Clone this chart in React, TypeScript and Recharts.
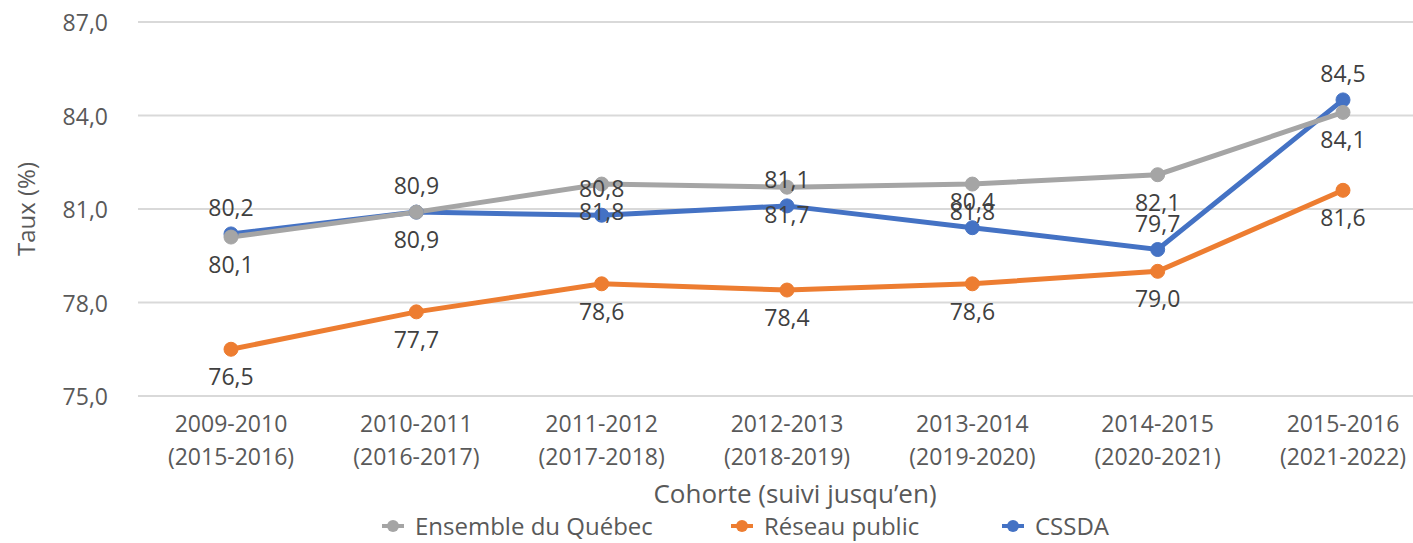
import React from "react";
import { LineChart, Line, XAxis, YAxis, CartesianGrid, LabelList } from "recharts";

const cohortes = ["2009-2010", "2010-2011", "2011-2012", "2012-2013", "2013-2014", "2014-2015", "2015-2016"];
const suivis = ["(2015-2016)", "(2016-2017)", "(2017-2018)", "(2018-2019)", "(2019-2020)", "(2020-2021)", "(2021-2022)"];
const ensembleQuebec = [80.1, 80.9, 81.8, 81.7, 81.8, 82.1, 84.1];
const reseauPublic = [76.5, 77.7, 78.6, 78.4, 78.6, 79.0, 81.6];
const cssda = [80.2, 80.9, 80.8, 81.1, 80.4, 79.7, 84.5];
const yTicks = [75, 78, 81, 84, 87];

const seriesInfo = [
  { key: "ensemble", name: "Ensemble du Québec", color: "#A5A5A5" },
  { key: "reseau", name: "Réseau public", color: "#ED7D31" },
  { key: "cssda", name: "CSSDA", color: "#4472C4" },
];

const data = cohortes.map((c, i) => ({
  cat: c,
  sub: suivis[i],
  ensemble: ensembleQuebec[i],
  reseau: reseauPublic[i],
  cssda: cssda[i],
}));

const FONT = "'Open Sans', sans-serif";
const fmt = (v: number) => v.toFixed(1).replace(".", ",");

const XTick = (props: any) => {
  const { x, y, payload } = props;
  const i = payload.index;
  return (
    <g>
      <text x={x} y={y + 19} textAnchor="middle" dominantBaseline="central" fontFamily={FONT} fontSize={23} fill="#595959">
        {cohortes[i]}
      </text>
      <text x={x} y={y + 52} textAnchor="middle" dominantBaseline="central" fontFamily={FONT} fontSize={23} fill="#595959">
        {suivis[i]}
      </text>
    </g>
  );
};

const YTick = (props: any) => {
  const { y, payload } = props;
  return (
    <text x={108} y={y} textAnchor="end" dominantBaseline="central" fontFamily={FONT} fontSize={23} fill="#595959">
      {fmt(payload.value)}
    </text>
  );
};

const makeLabel = (dy: number) => (props: any) => {
  const { x, y, value } = props;
  return (
    <text x={x} y={y + dy} textAnchor="middle" dominantBaseline="central" fontFamily={FONT} fontSize={23} fill="#404040">
      {fmt(value)}
    </text>
  );
};

const legendPos = [393, 742, 1013];

export default function App() {
  return (
    <div style={{ position: "absolute", left: 0, top: 0, width: 1413, height: 543, overflow: "hidden", background: "#fff" }}>
      <LineChart width={1436} height={543} data={data} margin={{ top: 22, right: 0, left: 0, bottom: 0 }}>
        <CartesianGrid vertical={false} stroke="#D9D9D9" strokeWidth={2} />
        <XAxis
          dataKey="cat"
          height={147}
          padding={{ left: 93, right: 93 }}
          tickLine={false}
          axisLine={{ stroke: "#D9D9D9", strokeWidth: 2 }}
          tick={<XTick />}
          interval={0}
          label={(p: any) => {
            const vb = p.viewBox;
            return (
              <text x={vb.x + vb.width / 2 + 8} y={493} textAnchor="middle" dominantBaseline="central" fontFamily={FONT} fontSize={26} fill="#595959">
                Cohorte (suivi jusqu’en)
              </text>
            );
          }}
        />
        <YAxis
          width={138}
          domain={[75, 87]}
          ticks={yTicks}
          axisLine={false}
          tickLine={false}
          tick={<YTick />}
          label={(p: any) => {
            const vb = p.viewBox;
            const cy = vb.y + vb.height / 2;
            return (
              <text x={25} y={cy} transform={`rotate(-90 25 ${cy})`} textAnchor="middle" dominantBaseline="central" fontFamily={FONT} fontSize={24} fill="#595959">
                Taux (%)
              </text>
            );
          }}
        />
        <Line dataKey="cssda" name="CSSDA" stroke="#4472C4" strokeWidth={5} dot={{ r: 7, fill: "#4472C4", stroke: "#4472C4", strokeWidth: 1 }} isAnimationActive={false}>
          <LabelList dataKey="cssda" content={makeLabel(-27)} />
        </Line>
        <Line dataKey="reseau" name="Réseau public" stroke="#ED7D31" strokeWidth={5} dot={{ r: 7, fill: "#ED7D31", stroke: "#ED7D31", strokeWidth: 1 }} isAnimationActive={false}>
          <LabelList dataKey="reseau" content={makeLabel(27)} />
        </Line>
        <Line dataKey="ensemble" name="Ensemble du Québec" stroke="#A5A5A5" strokeWidth={5} dot={{ r: 7, fill: "#A5A5A5", stroke: "#A5A5A5", strokeWidth: 1 }} isAnimationActive={false}>
          <LabelList dataKey="ensemble" content={makeLabel(27)} />
        </Line>
      </LineChart>
      {seriesInfo.map((s, i) => (
        <div
          key={s.key}
          style={{ position: "absolute", left: legendPos[i] - 14, top: 511, height: 30, display: "flex", alignItems: "center", fontFamily: FONT, fontSize: 24, lineHeight: "30px", color: "#595959", whiteSpace: "nowrap" }}
        >
          <svg width={28} height={16} style={{ marginRight: 8 }}>
            <line x1={3} y1={8} x2={25} y2={8} stroke={s.color} strokeWidth={4} />
            <circle cx={14} cy={8} r={6} fill={s.color} />
          </svg>
          <span>{s.name}</span>
        </div>
      ))}
    </div>
  );
}
